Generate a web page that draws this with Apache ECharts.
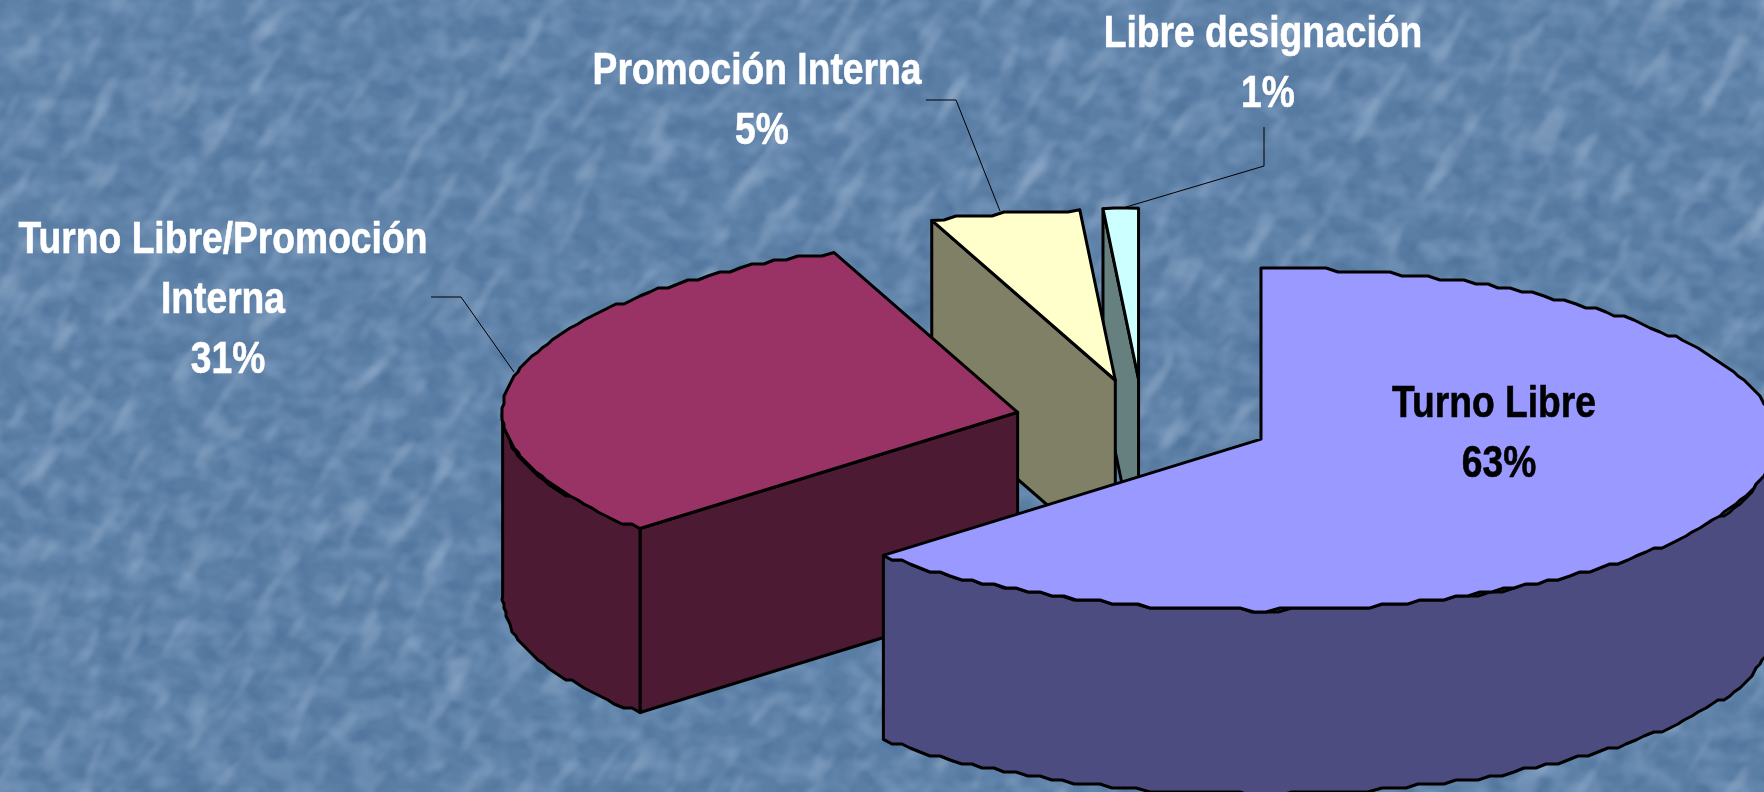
<!DOCTYPE html>
<html><head><meta charset="utf-8">
<style>html,body{margin:0;padding:0;width:1764px;height:792px;overflow:hidden;background:#5a7da4}
#bg{position:absolute;left:0;top:0}#c{position:absolute;left:0;top:0;width:1764px;height:792px}</style>
<script src="https://cdn.jsdelivr.net/npm/echarts@6/dist/echarts.min.js"></script>
</head><body>
<svg id="bg" width="1764" height="792" xmlns="http://www.w3.org/2000/svg">
<defs>
<filter id="w1" x="0" y="0" width="100%" height="100%" color-interpolation-filters="sRGB"><feTurbulence type="fractalNoise" baseFrequency="0.016 0.045" numOctaves="2" seed="11"/><feColorMatrix type="matrix" values="0 0 0 0 .60  0 0 0 0 .70  0 0 0 0 .81  2.2 0 0 0 -1.25"/><feGaussianBlur stdDeviation="1.5"/></filter>
<filter id="w2" x="0" y="0" width="100%" height="100%" color-interpolation-filters="sRGB"><feTurbulence type="fractalNoise" baseFrequency="0.045 0.06" numOctaves="2" seed="4"/><feColorMatrix type="matrix" values="0 0 0 0 .30  0 0 0 0 .44  0 0 0 0 .60  1.6 0 0 0 -0.65"/></filter>
<filter id="w3" x="0" y="0" width="100%" height="100%" color-interpolation-filters="sRGB"><feTurbulence type="fractalNoise" baseFrequency="0.04 0.05" numOctaves="2" seed="23"/><feColorMatrix type="matrix" values="0 0 0 0 .47  0 0 0 0 .60  0 0 0 0 .74  1.6 0 0 0 -0.6"/></filter>
</defs>
<rect width="1764" height="792" fill="#5b7ea5"/>
<rect width="1764" height="792" filter="url(#w2)"/>
<rect width="1764" height="792" filter="url(#w3)"/>
<g transform="rotate(-55 882 396)"><rect x="-400" y="-700" width="2600" height="2200" filter="url(#w1)"/></g>
</svg>
<div id="c"></div>
<script>
// Data
const categories = ['Turno Libre', 'Turno Libre/Promoción\nInterna', 'Promoción Interna', 'Libre designación'];
const percentValues = [63.1, 31.1, 4.7, 1.1];
const topColors = ['#9999FF', '#993366', '#FFFFCC', '#CCFFFF'];
const sideColors = ['#4C4C80', '#4D1A33', '#808066', '#668080'];
const labelColors = ['#000000', '#FFFFFF', '#FFFFFF', '#FFFFFF'];

// Layout of the projected pie and its annotations (pixels)
const pie = { cx: 1143, cy: 422, rx: 515, ry: 171, depth: 184, explode: 0.25 };
const labelCenters = [[1494, 375], [223, 211], [757, 42], [1263, 5]];
const leaderPaths = [null, [[431, 297], [461, 297], [514, 372]], [[926, 100], [956, 100], [1000, 211]], [[1264, 127], [1264, 166], [1126, 207]]];
const LABEL = { size: 44, lineHeight: 60, squeeze: 0.846, percentShift: 5 };

const total = percentValues.reduce((a, b) => a + b, 0);
const TAU = Math.PI * 2;
function snap(p) { return [Math.round(p[0] / 2) * 2, Math.round(p[1] / 4) * 4]; }
function point(c, t) { return [c[0] + pie.rx * Math.sin(t), c[1] - pie.ry * Math.cos(t)]; }
function arc(c, a, b) {
  const steps = Math.max(1, Math.round((b - a) * pie.rx / 13));
  const pts = [];
  for (let i = 0; i <= steps; i++) {
    const p = point(c, a + (b - a) * i / steps);
    pts.push(i === 0 || i === steps ? p : snap(p));
  }
  return pts;
}
function down(p) { return [p[0], p[1] + pie.depth]; }

function renderSlice(params, api) {
  const i = params.dataIndex;
  let before = 0;
  for (let k = 0; k < i; k++) before += percentValues[k];
  const t0 = before / total * TAU;
  const t1 = t0 + api.value(0) / total * TAU;
  const mid = (t0 + t1) / 2;
  const c = [pie.cx + pie.explode * pie.rx * Math.sin(mid), pie.cy - pie.explode * pie.ry * Math.cos(mid)];
  const order = (categories.length - i) * 10;
  const children = [];
  const face = (points, fill, z) => children.push({
    type: 'polygon', z2: order + z, shape: { points },
    style: { fill, stroke: '#000', lineWidth: 3, lineJoin: 'round' }
  });
  // cut face, visible when it turns towards the viewer
  if (Math.sin(t0) < -1e-6) {
    const e = point(c, t0);
    face([e, c, down(c), down(e)], sideColors[i], 1);
  }
  // outer wall, the front half of the rim
  const wa = Math.max(t0, Math.PI / 2), wb = Math.min(t1, Math.PI * 1.5);
  if (wb > wa) {
    const rim = arc(c, wa, wb);
    face(rim.concat(rim.slice().reverse().map(down)), sideColors[i], 2);
  }
  // top surface
  face([c].concat(arc(c, t0, t1)), topColors[i], 3);
  // leader line
  if (leaderPaths[i]) {
    children.push({ type: 'polyline', z2: 100, shape: { points: leaderPaths[i] },
      style: { fill: null, stroke: '#000', lineWidth: 1 } });
  }
  // label: name lines, then the share
  const lines = categories[i].split('\n').length;
  const textStyle = (text) => ({
    x: 0, y: 0, text, fill: labelColors[i], align: 'center', verticalAlign: 'top',
    stroke: labelColors[i], lineWidth: 0.6,
    font: 'bold ' + LABEL.size + 'px "Liberation Sans", Arial, sans-serif',
    lineHeight: LABEL.lineHeight
  });
  children.push({
    type: 'text', z2: 110, x: labelCenters[i][0], y: labelCenters[i][1], scaleX: LABEL.squeeze,
    style: textStyle(categories[i])
  });
  children.push({
    type: 'text', z2: 110, x: labelCenters[i][0] + LABEL.percentShift, y: labelCenters[i][1] + lines * LABEL.lineHeight,
    scaleX: LABEL.squeeze, style: textStyle(Math.round(api.value(0)) + '%')
  });
  return { type: 'group', children };
}

const chart = echarts.init(document.getElementById('c'), null, { renderer: 'canvas' });
chart.setOption({
  animation: false,
  backgroundColor: 'transparent',
  series: [{
    type: 'custom', coordinateSystem: 'none', renderItem: renderSlice,
    silent: true, clip: false,
    data: percentValues.map((v, i) => ({ name: categories[i], value: [v] }))
  }]
});
</script>
</body></html>
